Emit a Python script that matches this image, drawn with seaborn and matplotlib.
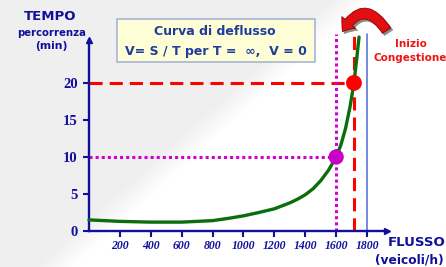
#!/usr/bin/env python
"""
Curva di deflusso: tempo di percorrenza in funzione del flusso.
"""

import numpy as np
import seaborn as sns
import matplotlib.pyplot as plt
from matplotlib.patches import Rectangle, FancyArrowPatch

# --- Data

flusso = [0, 100, 200, 300, 400, 500, 600, 700, 800, 900, 1000, 1100,
          1200, 1250, 1300, 1350, 1400, 1450, 1500, 1550, 1600, 1630,
          1660, 1690, 1715, 1732, 1748]
tempo = [1.5, 1.4, 1.3, 1.25, 1.2, 1.2, 1.2, 1.3, 1.4, 1.7, 2.05, 2.5,
         3.0, 3.4, 3.8, 4.3, 4.9, 5.7, 6.8, 8.2, 10.0, 11.6,
         13.8, 16.8, 20.0, 23.1, 26.2]

x_ticks = [200, 400, 600, 800, 1000, 1200, 1400, 1600, 1800]
y_ticks = [0, 5, 10, 15, 20]

flusso_soglia, tempo_soglia = 1600, 10      # punto magenta
flusso_inizio, tempo_inizio = 1715, 20      # inizio congestione
capacita = 1800                             # linea blu

# --- Style

NAVY = '#10109a'
sns.set_style('white')
plt.rcParams['font.family'] = ['DejaVu Sans']

fig = plt.figure(figsize=(4.46, 2.67), dpi=100)

# background: light gray wash in the upper left, white lower right
bg = fig.add_axes([0, 0, 1, 1], zorder=-10)
gx, gy = np.meshgrid(np.linspace(0, 446, 446), np.linspace(0, 267, 267))
wash = np.clip((gx + 1.1 * gy - 330) / 40, 0, 1)
bg.imshow(0.935 + 0.065 * wash, cmap='gray', vmin=0, vmax=1, aspect='auto',
          extent=[0, 1, 0, 1], origin='upper')
bg.axis('off')

ax = fig.add_axes([89 / 446, 36 / 267, 298 / 446, 191 / 267])
ax.patch.set_alpha(0)
ax.set_xlim(0, 1929)
ax.set_ylim(0, 25.8)

# guide lines
top = 26.6
ax.plot([0, flusso_inizio], [tempo_inizio, tempo_inizio], color='#ff0000',
        lw=2.2, dashes=(4.3, 2.3), zorder=2)
ax.plot([flusso_inizio, flusso_inizio], [0, top], color='#ff0000',
        lw=2.2, dashes=(4.3, 2.3), clip_on=False, zorder=2)
ax.plot([0, flusso_soglia], [tempo_soglia, tempo_soglia], color='#d000d0',
        lw=2.2, dashes=(1, 1), zorder=2)
ax.plot([flusso_soglia, flusso_soglia], [0, top], color='#d000d0',
        lw=2.2, dashes=(1, 1), clip_on=False, zorder=2)
ax.plot([capacita, capacita], [0, top], color='#4a6ad0', lw=1.1,
        clip_on=False, zorder=2)

# flow curve
sns.lineplot(x=flusso, y=tempo, ax=ax, color='#0a6e0a', lw=2.4,
             sort=False, estimator=None, zorder=3)
ax.lines[-1].set_clip_on(False)
ax.lines[-1].set_solid_joinstyle('round')

sns.scatterplot(x=[flusso_soglia], y=[tempo_soglia], ax=ax, color='#c800c8',
                s=120, edgecolor='none', zorder=4)
sns.scatterplot(x=[flusso_inizio], y=[tempo_inizio], ax=ax, color='#ff0000',
                s=130, edgecolor='none', zorder=4)

# axes
for side in ['top', 'right']:
    ax.spines[side].set_visible(False)
for side in ['left', 'bottom']:
    ax.spines[side].set_color(NAVY)
    ax.spines[side].set_linewidth(1.7)
ax.plot(1, 0, '>', color=NAVY, ms=5, transform=ax.transAxes, clip_on=False)
ax.plot(0, 1, '^', color=NAVY, ms=5, transform=ax.transAxes, clip_on=False)

ax.set_xticks(x_ticks)
ax.set_xticklabels([str(v) for v in x_ticks], family='Liberation Serif',
                   weight='bold', style='italic', size=8.5, color=NAVY)
ax.set_yticks(y_ticks)
ax.set_yticklabels([str(v) for v in y_ticks], family='Liberation Serif',
                   weight='bold', size=10.5, color=NAVY)
ax.tick_params(axis='both', which='major', direction='out', length=4.5,
               width=1.5, color=NAVY, bottom=True, left=True)
ax.tick_params(axis='x', pad=2)
ax.tick_params(axis='y', pad=3.5)

# axis titles
fig.text(50 / 446, 1 - 17 / 267, 'TEMPO', ha='center', va='center',
         weight='bold', size=9.5, color=NAVY)
fig.text(52 / 446, 1 - 33 / 267, 'percorrenza', ha='center', va='center',
         weight='bold', size=7.3, color=NAVY)
fig.text(51 / 446, 1 - 46 / 267, '(min)', ha='center', va='center',
         weight='bold', size=7.8, color=NAVY)
fig.text(388 / 446, 1 - 243 / 267, 'FLUSSO', ha='left', va='center',
         weight='bold', size=9.5, color=NAVY)
fig.text(444 / 446, 1 - 260 / 267, '(veicoli/h)', ha='right', va='center',
         weight='bold', size=8.8, color=NAVY)

# title box
fig.patches.append(Rectangle((117 / 446, 1 - 62 / 267), 198 / 446, 43 / 267,
                             transform=fig.transFigure, facecolor='#fdfdd6',
                             edgecolor='#a8b6d6', lw=1.2, zorder=5))
fig.text(215 / 446, 1 - 31 / 267, 'Curva di deflusso', ha='center',
         va='center', weight='bold', size=9, color='#1e3c9e', zorder=6)
fig.text(216 / 446, 1 - 51 / 267, 'V= S / T per T =  \u221e,  V = 0',
         ha='center', va='center', weight='bold', size=9, color='#1e3c9e',
         zorder=6)

# congestion label and curved arrow
fig.text(411 / 446, 1 - 44 / 267, 'Inizio', ha='center', va='center',
         weight='bold', size=7.5, color='#ee1515')
fig.text(373 / 446, 1 - 58 / 267, 'Congestione', ha='left', va='center',
         weight='bold', size=7.5, color='#ee1515')
for dx, dy, col in [(2, -2, '#8a8a8a'), (0, 0, '#e01010')]:
    fig.patches.append(FancyArrowPatch(
        ((388 + dx) / 446, 1 - (33 - dy) / 267),
        ((341 + dx) / 446, 1 - (34 - dy) / 267),
        transform=fig.transFigure, connectionstyle='arc3,rad=0.85',
        arrowstyle='simple,head_width=13,head_length=8,tail_width=7',
        facecolor=col, edgecolor='#900000' if dx == 0 else col, lw=0.6,
        mutation_scale=1, zorder=7))

fig.savefig('out.png', dpi=100)
